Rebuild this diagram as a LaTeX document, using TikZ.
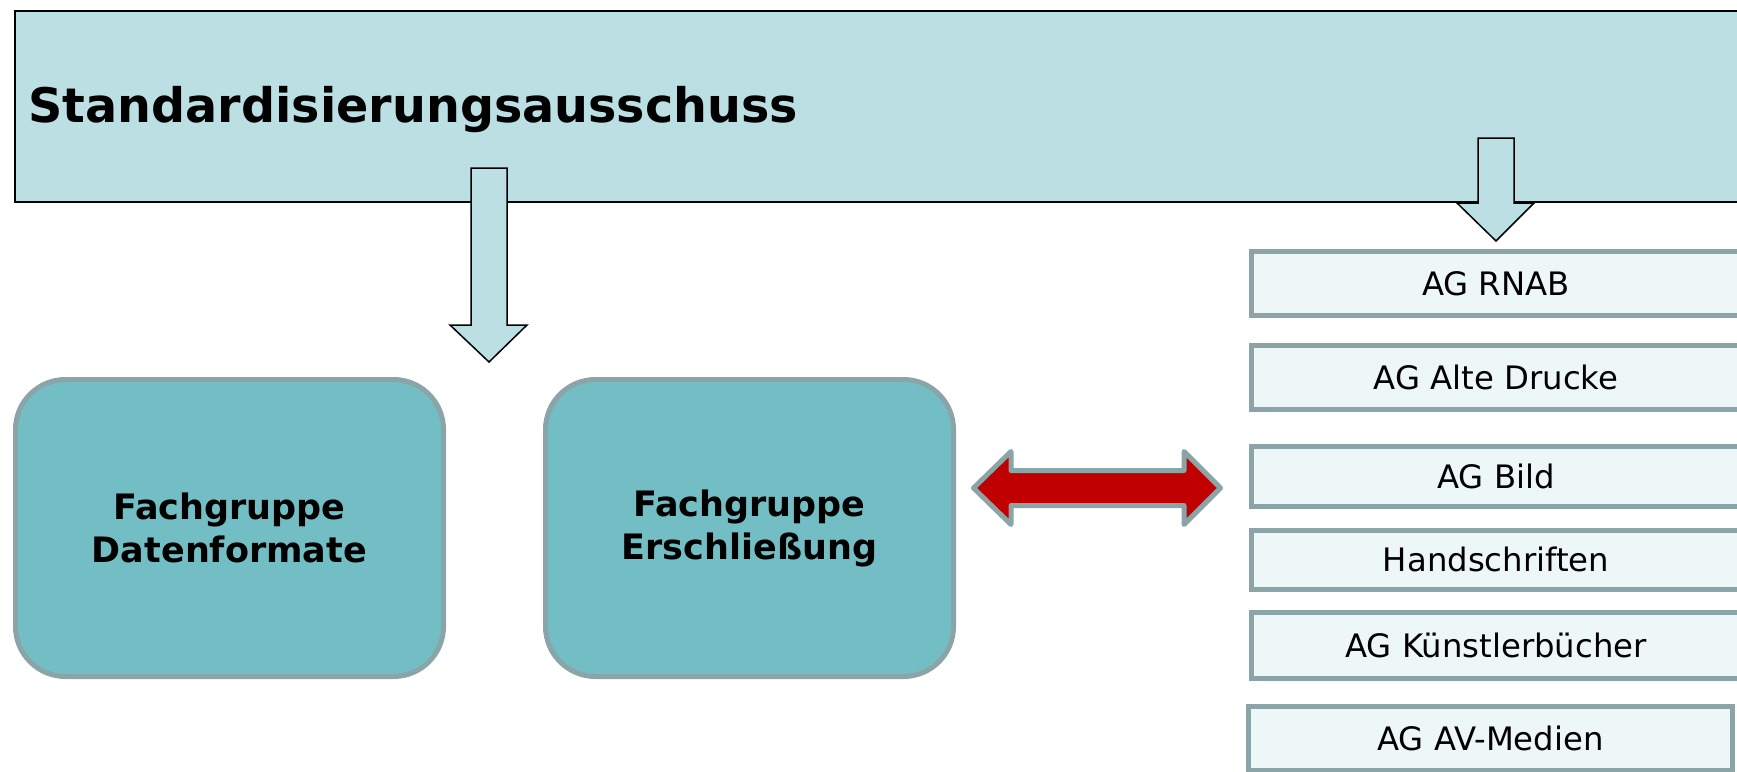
\documentclass[tikz,border=0pt]{standalone}
\usepackage{fontspec}
\usetikzlibrary{calc}
\setmainfont{DejaVu Sans}
\definecolor{headfill}{HTML}{BBDFE2}
\definecolor{groupfill}{HTML}{73BEC4}
\definecolor{agfill}{HTML}{EEF7F7}
\definecolor{frame}{HTML}{8AA4A7}
\definecolor{linkred}{HTML}{C00000}
\tikzset{
  headbox/.style={draw=black, line width=2pt, fill=headfill, inner sep=0pt},
  groupbox/.style={draw=frame, line width=5pt, fill=groupfill, rounded corners=50pt,
    inner sep=0pt, align=center, font=\fontsize{35}{43}\selectfont\bfseries},
  agbox/.style={draw=frame, line width=5pt, fill=agfill, inner sep=0pt,
    font=\fontsize{32.3}{38}\selectfont},
  blockarrow/.style={draw=black, line width=1.5pt, fill=headfill, line join=miter},
  linkarrow/.style={draw=frame, line width=5pt, fill=linkred, line join=round}
}
\begin{document}
\begin{tikzpicture}[x=1pt, y=-1pt]
\path[use as bounding box] (0,0) rectangle (1737,771);
\clip (0,0) rectangle (1737,771);

% committee bar across the top
\node[headbox, minimum width=1760pt, minimum height=191pt, anchor=north west] (top) at (14,10) {};
\node[anchor=base west, inner sep=0pt, font=\fontsize{47.6}{57}\selectfont\bfseries] (title) at (28.5,122) {Standardisierungsausschuss};

% expert groups
\node[groupbox, minimum width=428pt, minimum height=297pt] (fd) at (229.5,528) {Fachgruppe\\Datenformate};
\node[groupbox, minimum width=408pt, minimum height=297pt] (fe) at (749.5,528) {Fachgruppe\\Erschließung};

% working groups
\node[agbox, minimum width=489pt, minimum height=64pt] (rnab)   at (1496,283.5) {AG RNAB};
\node[agbox, minimum width=489pt, minimum height=64pt] (alte)   at (1496,377.5) {AG Alte Drucke};
\node[agbox, minimum width=489pt, minimum height=60pt] (bild)   at (1496,476) {AG Bild};
\node[agbox, minimum width=489pt, minimum height=59pt] (hand)   at (1496,559.5)   {Handschriften};
\node[agbox, minimum width=489pt, minimum height=66pt] (kuenst) at (1496,645) {AG Künstlerbücher};
\node[agbox, minimum width=484pt, minimum height=64pt] (av)     at (1490.5,738) {AG AV-Medien};

% block arrow from the committee down to the expert groups
\coordinate (la) at (489,168);
\draw[blockarrow] ($(la)+(-18,0)$) -- ($(la)+(18,0)$) -- ($(la)+(18,157)$) -- ($(la)+(38,157)$)
  -- ($(la)+(0,194)$) -- ($(la)+(-39,157)$) -- ($(la)+(-18,157)$) -- cycle;

% block arrow from the committee down to the working groups
\coordinate (ra) at (1496,138);
\draw[blockarrow] ($(ra)+(-18,0)$) -- ($(ra)+(18,0)$) -- ($(ra)+(18,65)$) -- ($(ra)+(38,65)$)
  -- ($(ra)+(0,103)$) -- ($(ra)+(-39,65)$) -- ($(ra)+(-18,65)$) -- cycle;

% two-way link between Erschließung and the working groups
\coordinate (ll) at (973.5,488);
\coordinate (lr) at (1220.5,488);
\draw[linkarrow] (ll) -- ++(37.5,-36.5) -- ++(0,19) -- (1184,470.5) -- (1184,451.5) -- (lr)
  -- (1184,524.5) -- (1184,505.5) -- (1011,505.5) -- (1011,524.5) -- cycle;
\end{tikzpicture}
\end{document}
